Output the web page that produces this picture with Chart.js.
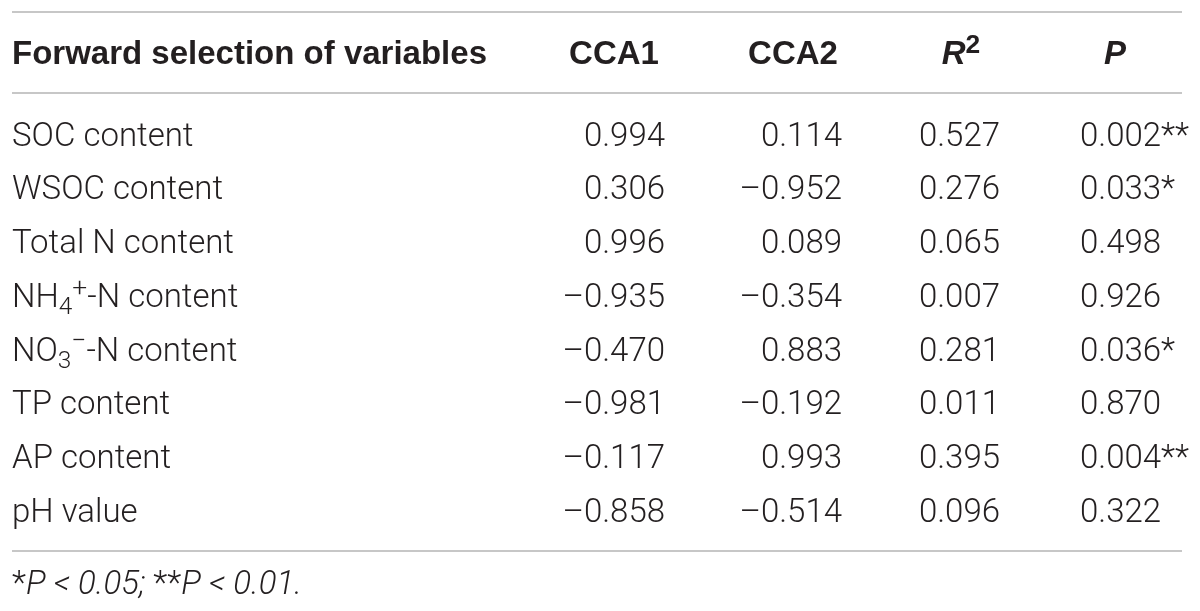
<!DOCTYPE html>
<html><head><meta charset="utf-8">
<script src="https://cdn.jsdelivr.net/npm/chart.js@4/dist/chart.umd.min.js"></script>
<style>html,body{margin:0;padding:0;background:#fff;overflow:hidden}#wrap{width:1200px;height:611px}</style>
</head><body><div id="wrap"><canvas id="c" width="1200" height="611"></canvas></div>
<script>
// ---------- data ----------
const headers = ['Forward selection of variables', 'CCA1', 'CCA2', 'R^{2}', 'P'];
const variables = ['SOC content', 'WSOC content', 'Total N content', 'NH_{4}^{+}-N content',
  'NO_{3}^{\u2212}-N content', 'TP content', 'AP content', 'pH value'];
const cca1 = [0.994, 0.306, 0.996, -0.935, -0.470, -0.981, -0.117, -0.858];
const cca2 = [0.114, -0.952, 0.089, -0.354, 0.883, -0.192, 0.993, -0.514];
const r2 = [0.527, 0.276, 0.065, 0.007, 0.281, 0.011, 0.395, 0.096];
const pValues = [0.002, 0.033, 0.498, 0.926, 0.036, 0.870, 0.004, 0.322];
const footnote = '*~{P < 0.05; }**~{P < 0.01.}';

// ---------- layout / style ----------
const FAMILY = 'Roboto, "Liberation Sans", Arial, sans-serif';
const HEAD_FAMILY = '"Liberation Sans", Arial, Helvetica, sans-serif';
const TEXT = '#231f20';
const RULE = '#b4b4b4';
const BODY = 33, HEAD = 33;
const COL_X = [12, 665, 842, 1000, 1080];         // anchor pixels per column
const COL_ALIGN = ['left', 'right', 'right', 'right', 'left'];
const HEAD_X = [12, 614, 793, 961, 1115];
const HEAD_ALIGN = ['left', 'center', 'center', 'center', 'center'];
const HEAD_ITALIC = [false, false, false, true, true];
const HEAD_ROW = -1.516, RULE_ROWS = [-2.484, -0.977, 7.544], FOOT_ROW = 8.344;
const RULE_X0 = 12, RULE_X1 = 1182;

const fmt = v => (v < 0 ? '\u2013' : '') + Math.abs(v).toFixed(3);
const stars = p => p < 0.01 ? '**' : (p < 0.05 ? '*' : '');
const columns = [
  variables,
  cca1.map(fmt),
  cca2.map(fmt),
  r2.map(fmt),
  pValues.map(p => p.toFixed(3) + stars(p))
];

function parse(str) {
  const parts = str.split(/(_\{[^}]*\}|\^\{[^}]*\}|~\{[^}]*\})/).filter(s => s.length);
  return parts.map(p => {
    if (p.startsWith('_{')) return { t: p.slice(2, -1), scale: 0.74, dy: 0.22 };
    if (p.startsWith('^{')) return { t: p.slice(2, -1), scale: 0.8, dy: -0.34, up: true };
    if (p.startsWith('~{')) return { t: p.slice(2, -1), scale: 1, dy: 0, italic: true };
    return { t: p, scale: 1, dy: 0 };
  });
}
function fontFor(s, base) {
  const it = (s.italic || (base.italic && !s.up)) ? 'italic ' : '';
  return it + base.weight + ' ' + (base.size * s.scale).toFixed(2) + 'px ' + base.family;
}
function drawRich(ctx, str, x, y, align, base) {
  const segs = parse(str);
  let total = 0;
  segs.forEach(s => { ctx.font = fontFor(s, base); s.w = ctx.measureText(s.t).width; total += s.w; });
  let cx = align === 'right' ? x - total : align === 'center' ? x - total / 2 : x;
  segs.forEach(s => { ctx.font = fontFor(s, base); ctx.fillText(s.t, cx, y + s.dy * base.size); cx += s.w; });
}

const tablePlugin = {
  id: 'tableText',
  afterDatasetsDraw(chart) {
    const ctx = chart.ctx, xs = chart.scales.x, ys = chart.scales.y;
    ctx.save();
    ctx.textBaseline = 'alphabetic';
    ctx.textAlign = 'left';
    ctx.strokeStyle = RULE; ctx.lineWidth = 1.5;
    RULE_ROWS.forEach(v => {
      const y = ys.getPixelForValue(v);
      ctx.beginPath(); ctx.moveTo(xs.getPixelForValue(RULE_X0), y); ctx.lineTo(xs.getPixelForValue(RULE_X1), y); ctx.stroke();
    });
    ctx.fillStyle = TEXT;
    headers.forEach((h, c) => {
      drawRich(ctx, h, xs.getPixelForValue(HEAD_X[c]), ys.getPixelForValue(HEAD_ROW), HEAD_ALIGN[c],
        { size: HEAD, weight: 'bold', italic: HEAD_ITALIC[c], family: HEAD_FAMILY });
    });
    chart.data.datasets.forEach((ds, c) => {
      const meta = chart.getDatasetMeta(c);
      meta.data.forEach((el, i) => {
        drawRich(ctx, ds.texts[i], el.x, el.y, COL_ALIGN[c], { size: BODY, weight: '300', italic: false, family: FAMILY });
      });
    });
    drawRich(ctx, footnote, xs.getPixelForValue(12), ys.getPixelForValue(FOOT_ROW), 'left',
      { size: BODY, weight: '300', italic: false, family: FAMILY });
    ctx.restore();
  }
};

new Chart(document.getElementById('c'), {
  type: 'scatter',
  data: {
    datasets: columns.map((col, c) => ({
      label: 'col' + c,
      texts: col,
      data: col.map((_, i) => ({ x: COL_X[c], y: i })),
      pointRadius: 0, pointHoverRadius: 0
    }))
  },
  options: {
    responsive: false, animation: false, events: [],
    layout: { padding: 0 },
    plugins: { legend: { display: false }, tooltip: { enabled: false } },
    scales: {
      x: { type: 'linear', display: false, min: 0, max: 1200, bounds: 'data' },
      y: { type: 'linear', display: false, min: -2.707, max: 8.660, reverse: true, bounds: 'data' }
    }
  },
  plugins: [tablePlugin]
});
</script></body></html>
